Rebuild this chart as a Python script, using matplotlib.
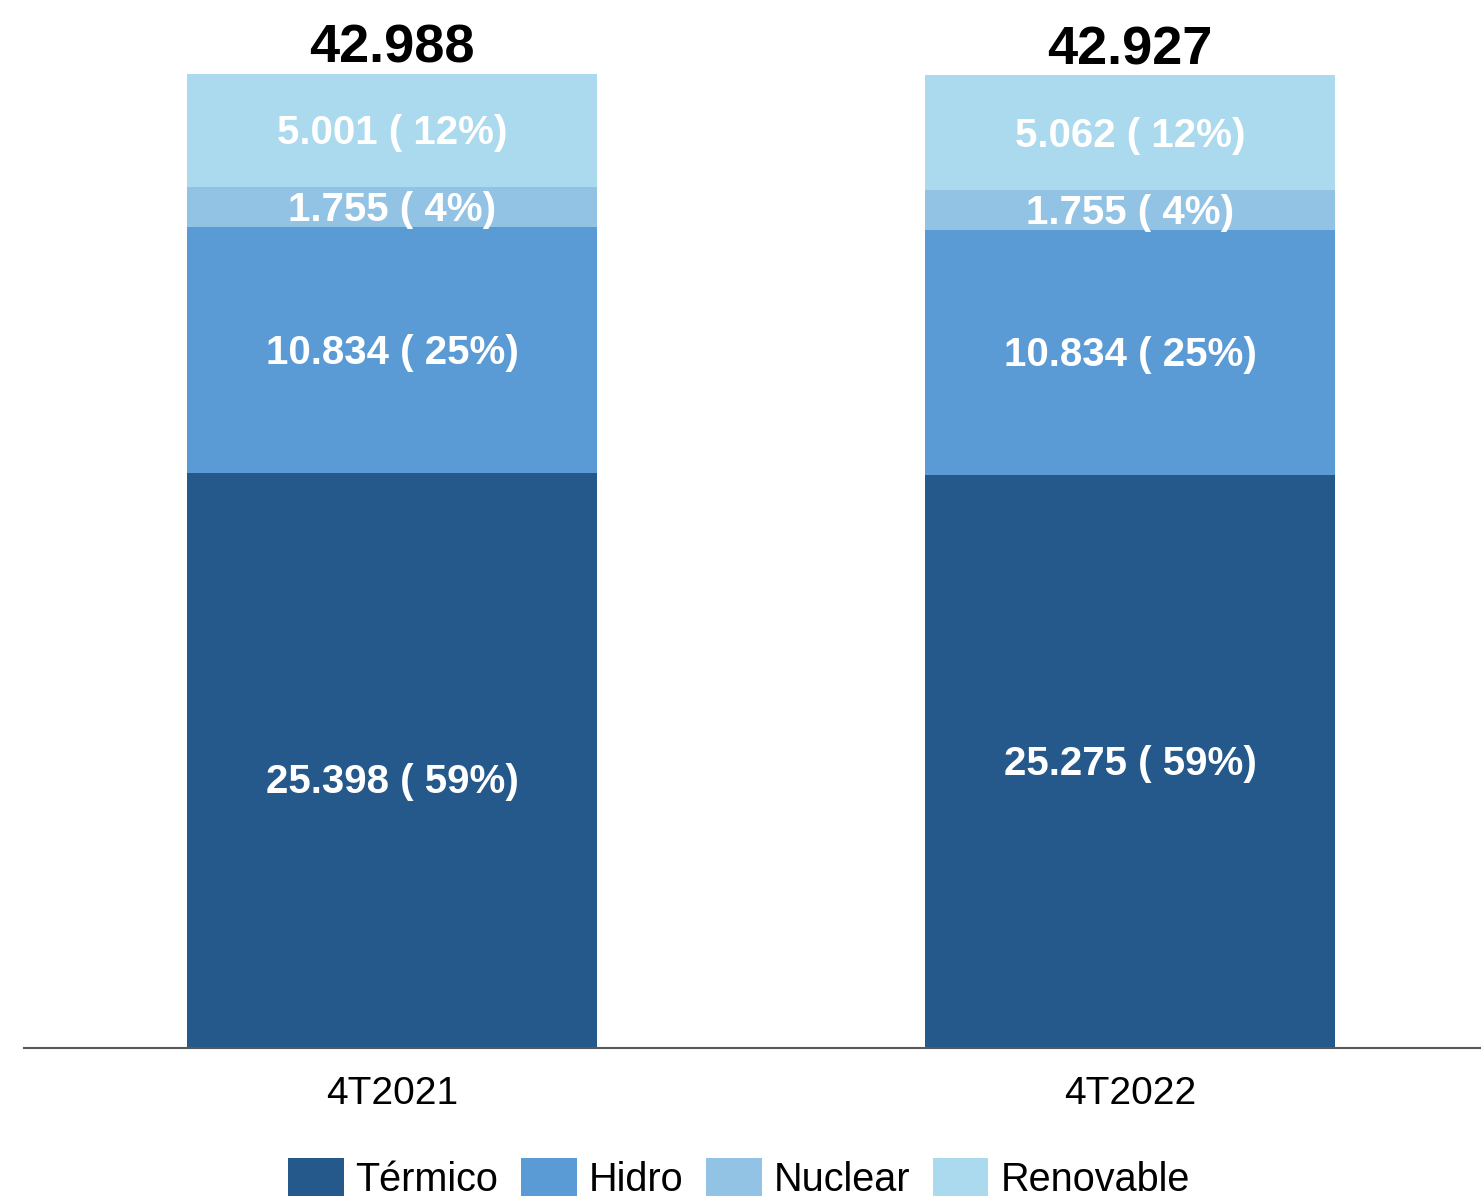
import numpy as np
import matplotlib.pyplot as plt

# datos
periodos = ['4T2021', '4T2022']
fuentes = ['Térmico', 'Hidro', 'Nuclear', 'Renovable']
termico = [25398, 25275]
hidro = [10834, 10834]
nuclear = [1755, 1755]
renovable = [5001, 5062]
totales = [42988, 42927]
porcentajes = {
    'Térmico': [59, 59],
    'Hidro': [25, 25],
    'Nuclear': [4, 4],
    'Renovable': [12, 12],
}

colores = ['#25588B', '#5B9BD5', '#93C3E4', '#ABDAEE']
fuente = 'Liberation Sans'


def miles(v):
    return f'{v:,}'.replace(',', '.')


fig = plt.figure(figsize=(14.81, 12.01), dpi=100)
ax = fig.add_axes([24 / 1481, 153 / 1201, 1457 / 1481, 1048 / 1201])

x = np.arange(len(periodos))
ancho = 0.556
series = [termico, hidro, nuclear, renovable]
base = np.zeros(len(periodos))
for nombre, valores, color in zip(fuentes, series, colores):
    valores = np.array(valores)
    ax.bar(x, valores, ancho, bottom=base, color=color, label=nombre)
    for i in range(len(periodos)):
        txt = f'{miles(valores[i])} ( {porcentajes[nombre][i]}%)'
        # la etiqueta del primer térmico queda algo más baja en el original
        dy = -16 if (nombre == 'Térmico' and i == 0) else -2
        ax.annotate(txt, (x[i], base[i] + valores[i] / 2), xytext=(0, dy),
                    textcoords='offset points', ha='center', va='center',
                    color='white', fontsize=29, fontweight='bold', family=fuente)
    base = base + valores

for i, t in enumerate(totales):
    ax.annotate(miles(t), (x[i], base[i]), xytext=(0, 8), textcoords='offset points',
                ha='center', va='baseline', fontsize=39, fontweight='bold',
                family=fuente, color='black')

ax.set_xlim(-0.4986, 1.4756)
ax.set_ylim(0, 46254)
ax.set_xticks(x)
ax.set_xticklabels(periodos, fontsize=28, family=fuente)
ax.tick_params(axis='x', length=0, pad=20)
ax.set_yticks([])
for lado in ['top', 'right', 'left']:
    ax.spines[lado].set_visible(False)
ax.spines['bottom'].set_color('#595959')
ax.spines['bottom'].set_linewidth(1.5)

fig.legend(loc='lower center', bbox_to_anchor=(0.499, 0.002), ncol=4, frameon=False,
           prop={'family': fuente, 'size': 28.5}, handlelength=1.4, handleheight=1.09,
           handletextpad=0.3, columnspacing=0.58, borderpad=0, borderaxespad=0)

fig.savefig('out.png', dpi=100)
